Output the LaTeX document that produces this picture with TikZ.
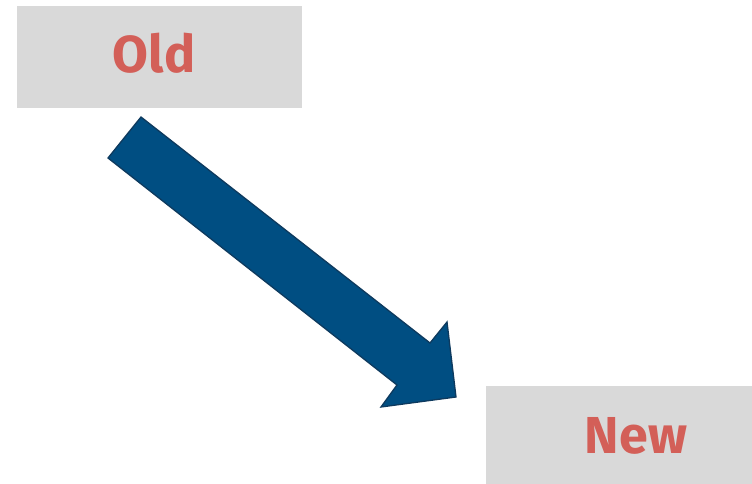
\documentclass[tikz,border=0pt]{standalone}
\usepackage{fontspec}
\setmainfont{Fira Sans}
\definecolor{boxgray}{HTML}{D9D9D9}
\definecolor{txtred}{HTML}{D35F58}
\definecolor{arrowfill}{HTML}{004E82}
\definecolor{arrowline}{HTML}{0E3A5E}
\begin{document}
\begin{tikzpicture}[x=1pt,y=-1pt,
  panel/.style={fill=boxgray,draw=none},
  label/.style={text=txtred,font=\fontsize{52}{60}\selectfont\bfseries,anchor=base,inner sep=0pt},
  bigarrow/.style={fill=arrowfill,draw=arrowline,line width=1.3pt,line join=miter}]
\useasboundingbox (0,0) rectangle (752,484);
\fill[panel] (17,6) rectangle (302,108);
\fill[panel] (486,386) rectangle (752,484);
\node[label] (old) at (154,73) {Old};
\node[label] (new) at (636,453) {New};
\coordinate (t1) at (141,117);
\coordinate (n1) at (430,343);
\coordinate (b1) at (447,322);
\coordinate (tip) at (456,397);
\coordinate (b2) at (381,407);
\coordinate (n2) at (397,385);
\coordinate (t2) at (108,158);
\draw[bigarrow] (t1) -- (n1) -- (b1) -- (tip) -- (b2) -- (n2) -- (t2) -- cycle;
\end{tikzpicture}
\end{document}
